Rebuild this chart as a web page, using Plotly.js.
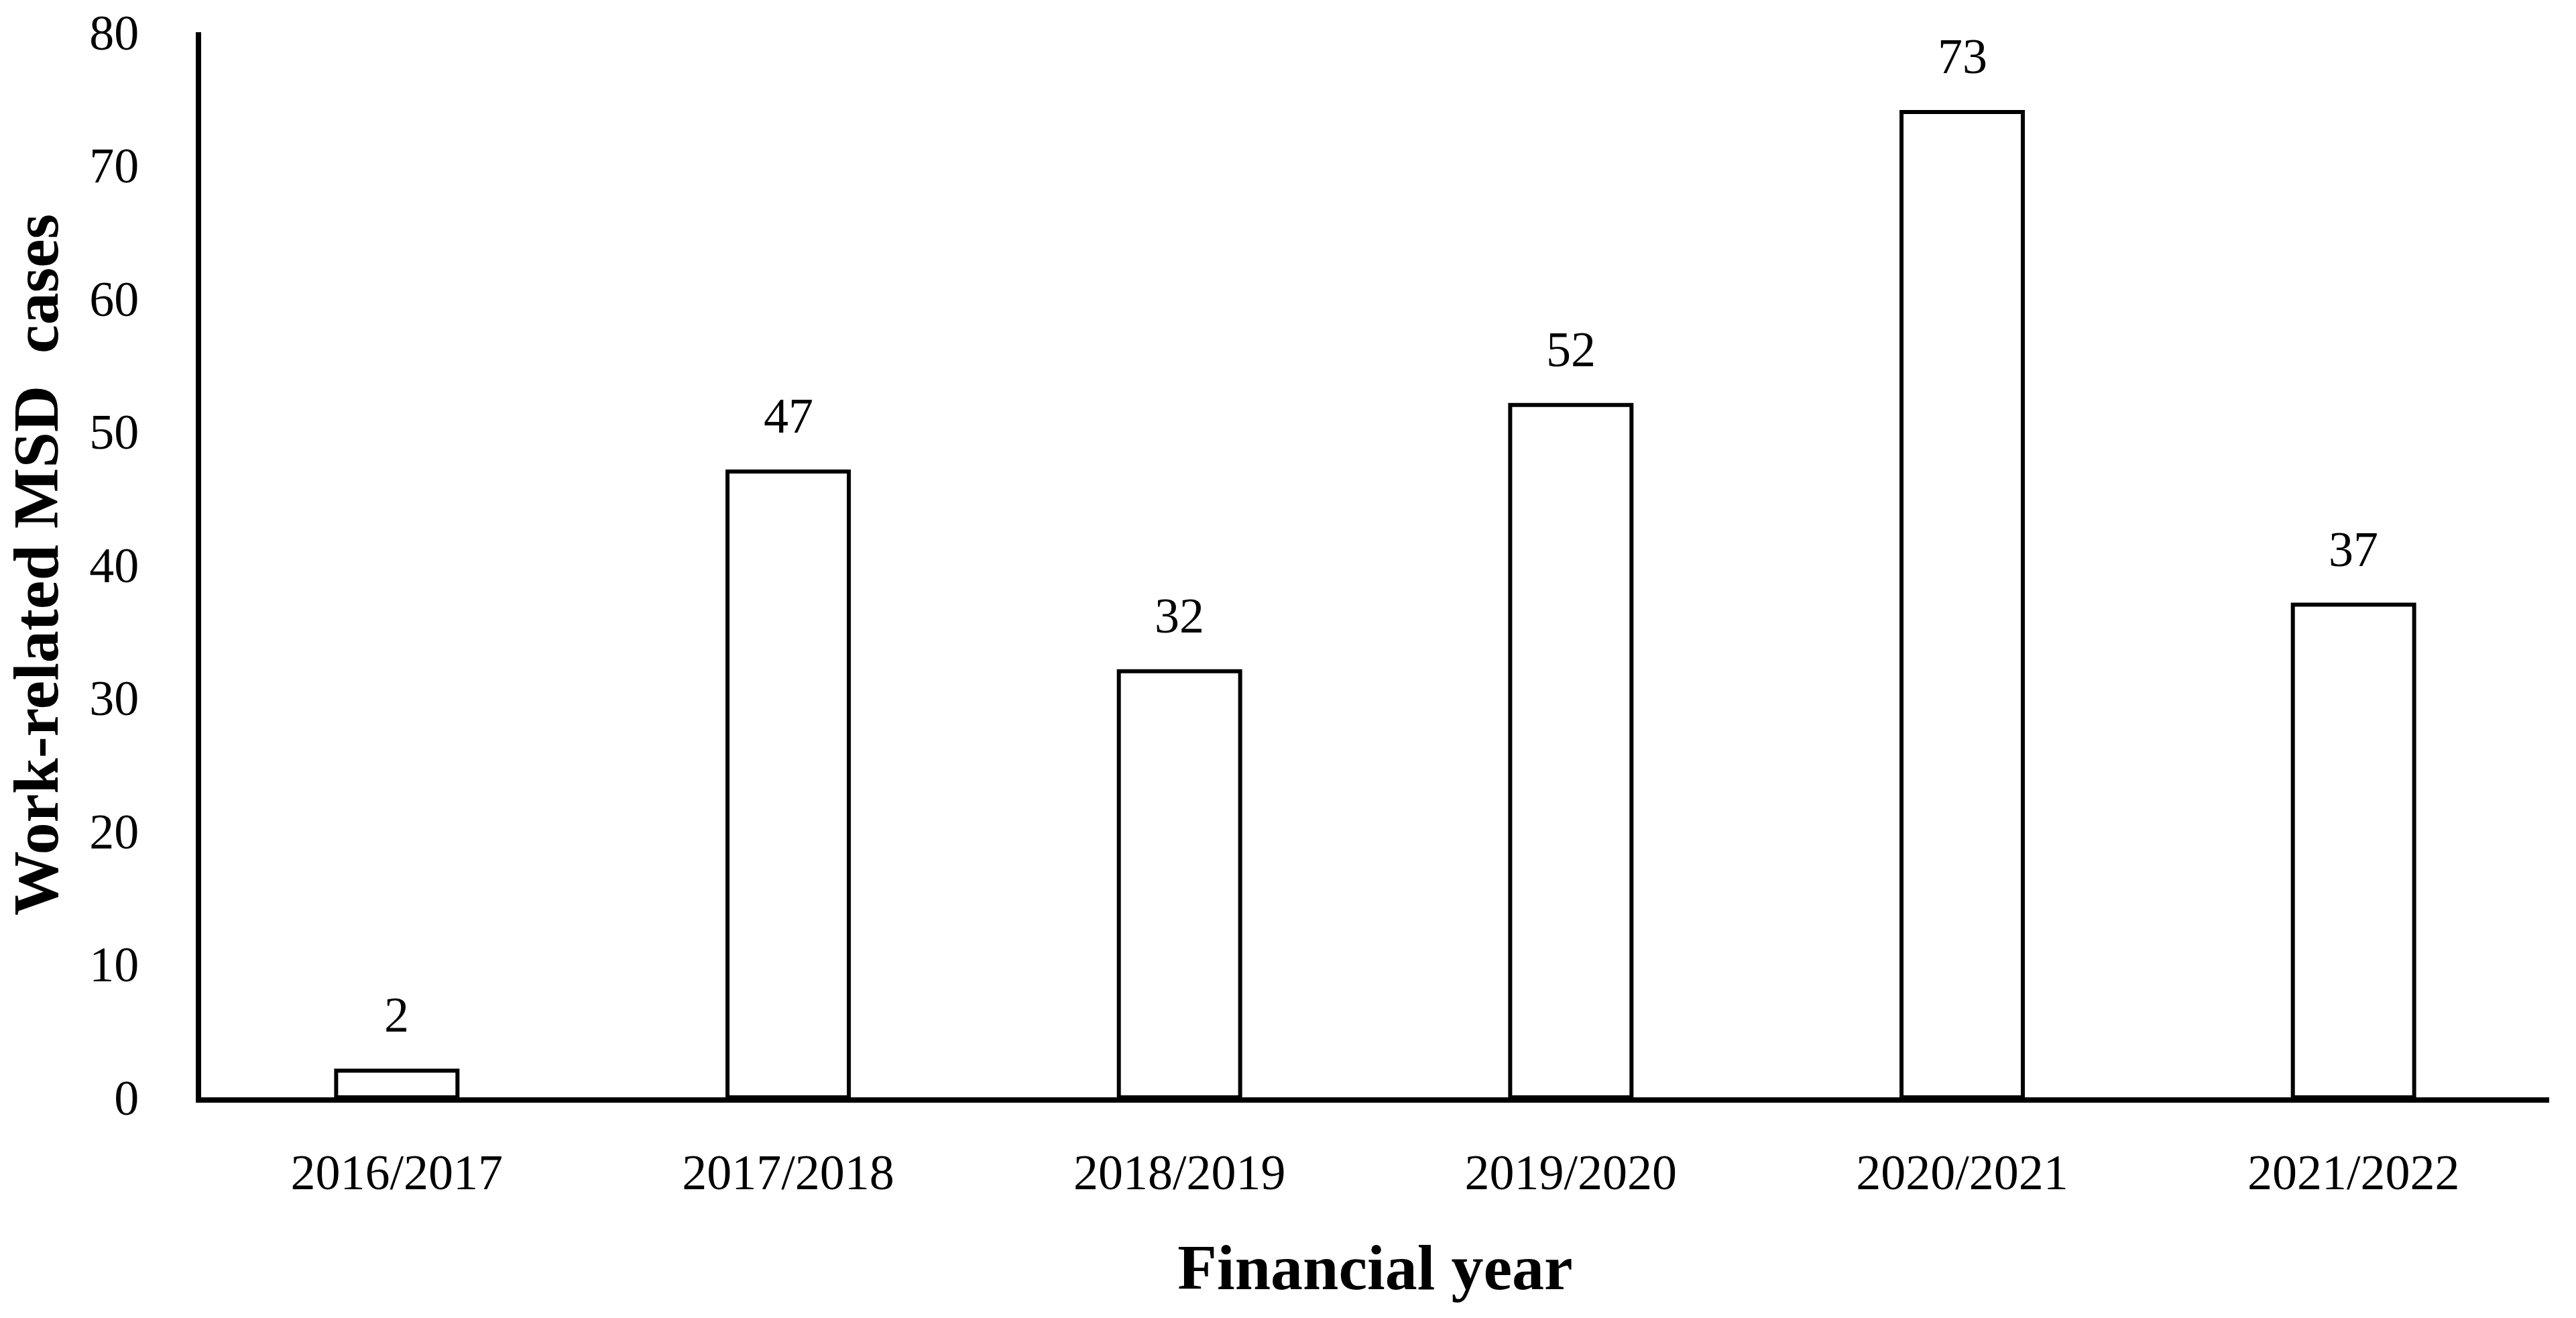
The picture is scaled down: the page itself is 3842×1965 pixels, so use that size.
<!DOCTYPE html>
<html>
<head>
<meta charset="utf-8">
<script src="https://cdn.plot.ly/plotly-3.0.1.min.js"></script>
<style>
  html, body { margin: 0; padding: 0; background: #ffffff; }
  #chart { width: 3842px; height: 1965px; }
</style>
</head>
<body>
<div id="chart"></div>
<script>
// Data
const years = ["2016/2017", "2017/2018", "2018/2019", "2019/2020", "2020/2021", "2021/2022"];
const cases = [2, 47, 32, 52, 74, 37];          // bar heights as drawn
const caseLabels = ["2", "47", "32", "52", "73", "37"]; // printed data labels
const yTickValues = [0, 10, 20, 30, 40, 50, 60, 70, 80];

const serif = "'Liberation Serif', 'Times New Roman', serif";

const trace = {
  type: "bar",
  x: years,
  y: cases,
  marker: { color: "#ffffff", line: { color: "#000000", width: 6 } },
  hoverinfo: "skip",
  showlegend: false
};

const annotations = years.map((yr, i) => ({
  x: yr,
  y: cases[i],
  xref: "x",
  yref: "y",
  text: caseLabels[i],
  showarrow: false,
  yanchor: "bottom",
  yshift: 40,
  font: { family: serif, size: 74, color: "#000000" }
}));

const layout = {
  width: 3842,
  height: 1965,
  margin: { l: 300, r: 40, t: 48, b: 329, pad: 0 },
  paper_bgcolor: "#ffffff",
  plot_bgcolor: "#ffffff",
  bargap: 0.69,
  showlegend: false,
  font: { family: serif, color: "#000000" },
  xaxis: {
    type: "category",
    range: [-0.5, 5.5],
    showline: true,
    linecolor: "#000000",
    linewidth: 8,
    showgrid: false,
    zeroline: false,
    ticks: "",
    ticklabelstandoff: 40,
    tickfont: { family: serif, size: 74, color: "#000000" },
    title: {
      text: "Financial year",
      font: { family: serif, size: 96, color: "#000000", weight: "bold" },
      standoff: 70
    }
  },
  yaxis: {
    range: [0, 80],
    tickvals: yTickValues,
    ticktext: yTickValues.map(String),
    showline: true,
    linecolor: "#000000",
    linewidth: 8,
    showgrid: false,
    zeroline: false,
    ticks: "",
    ticklabelstandoff: 70,
    tickfont: { family: serif, size: 74, color: "#000000" },
    title: {
      text: "Work-related MSD\u00a0 cases",
      font: { family: serif, size: 96, color: "#000000", weight: "bold" },
      standoff: 34
    }
  },
  annotations: annotations
};

Plotly.newPlot("chart", [trace], layout, { staticPlot: true, displayModeBar: false });
</script>
</body>
</html>
